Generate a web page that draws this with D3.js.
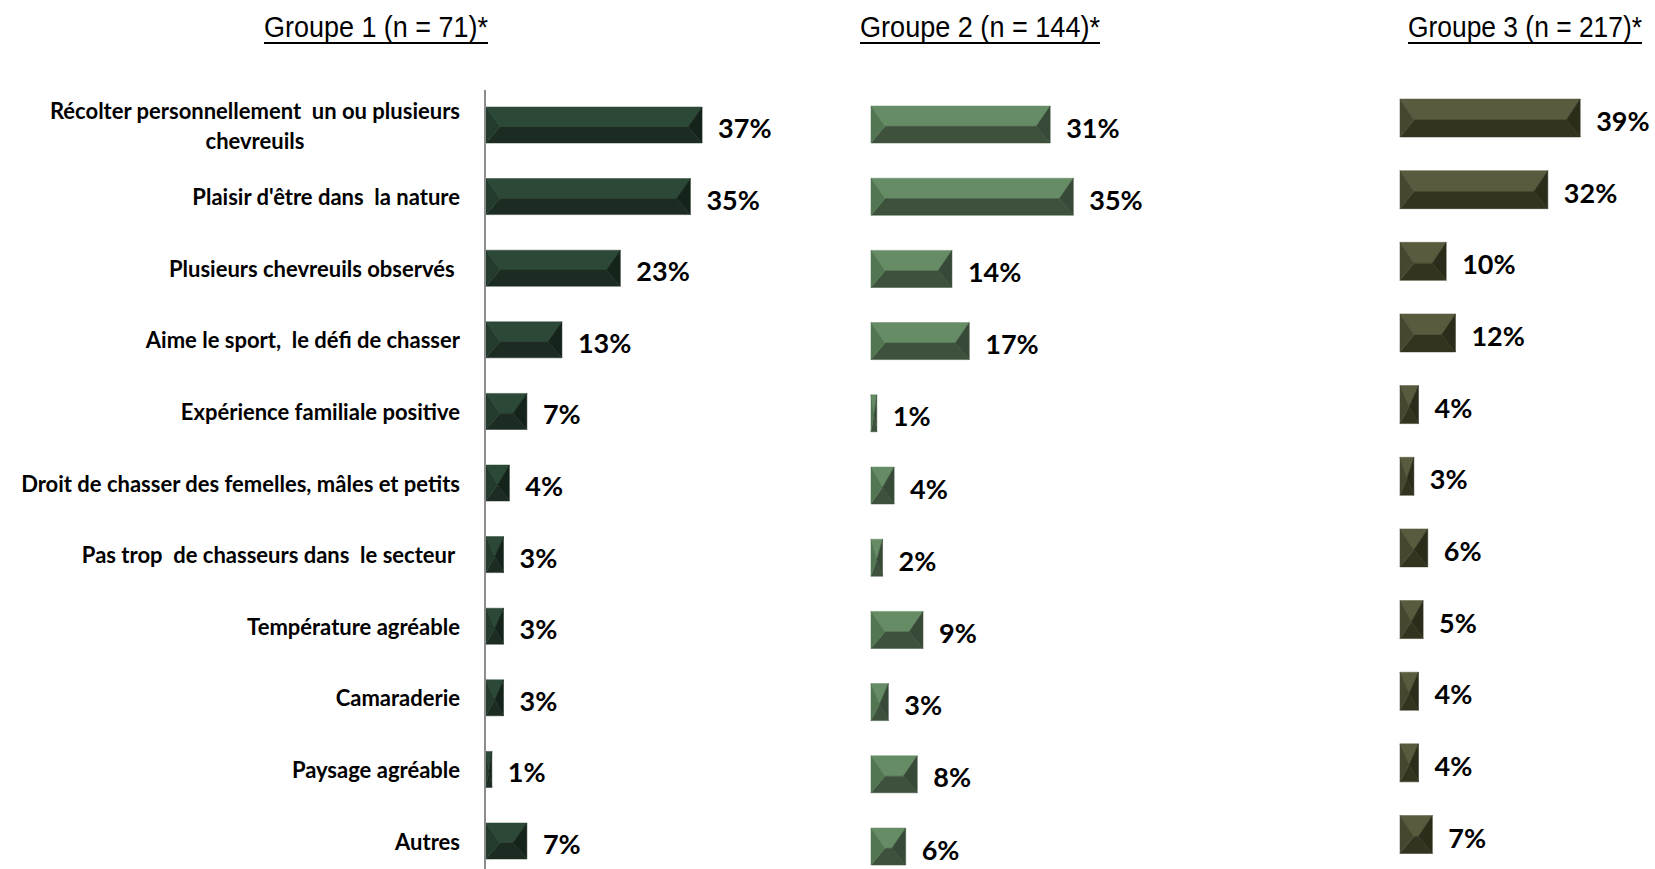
<!DOCTYPE html>
<html>
<head>
<meta charset="utf-8">
<script src="https://cdn.jsdelivr.net/npm/d3@7"></script>
<style>
  body { margin: 0; background: #fff; }
  text { white-space: pre; }
</style>
</head>
<body>
<script>
const width = 1655; //Width of page
const height = 869; //Height of page

//Categories (a "|" splits a label on two lines)
const categories = [
  "Récolter personnellement  un ou plusieurs|chevreuils",
  "Plaisir d'être dans  la nature",
  "Plusieurs chevreuils observés ",
  "Aime le sport,  le défi de chasser",
  "Expérience familiale positive",
  "Droit de chasser des femelles, mâles et petits",
  "Pas trop  de chasseurs dans  le secteur ",
  "Température agréable",
  "Camaraderie",
  "Paysage agréable",
  "Autres"
];

const groupTitles = ["Groupe 1 (n = 71)*", "Groupe 2 (n = 144)*", "Groupe 3 (n = 217)*"];

//Percentages per group, same order as categories
const group1 = [37, 35, 23, 13, 7, 4, 3, 3, 3, 1, 7];
const group2 = [31, 35, 14, 17, 1, 4, 2, 9, 3, 8, 6];
const group3 = [39, 32, 10, 12, 4, 3, 6, 5, 4, 4, 7];

//Layout and colours of each panel
const panels = [
  { values: group1, x0: 486, ppp: 5.84, yTop: 125, yBot: 841, barH: 36, titleX: 376, titleW: 224,
    colors: { top: "#2b4936", bottom: "#1c2c22", left: "#223b2c", right: "#14241a" } },
  { values: group2, x0: 871, ppp: 5.78, yTop: 124.5, yBot: 846.5, barH: 37, titleX: 980, titleW: 240,
    colors: { top: "#668c66", bottom: "#3d513d", left: "#527552", right: "#374a37" } },
  { values: group3, x0: 1400, ppp: 4.62, yTop: 118, yBot: 834.5, barH: 38, titleX: 1525, titleW: 234,
    colors: { top: "#5a5a3e", bottom: "#33331f", left: "#474730", right: "#2c2c1b" } }
];

const svg = d3.select("body")
  .append("svg")
  .attr("width", width)
  .attr("height", height);

//Draws a bevelled bar made of four faces
function bevelBar(g, x, y, w, h, c) {
  const d = Math.min(14, w / 2);
  const ym = y + h * 0.55;
  const faces = [
    { pts: [[x, y], [x + w, y], [x + w - d, ym], [x + d, ym]], fill: c.top },
    { pts: [[x + d, ym], [x + w - d, ym], [x + w, y + h], [x, y + h]], fill: c.bottom },
    { pts: [[x, y], [x + d, ym], [x, y + h]], fill: c.left },
    { pts: [[x + w, y], [x + w - d, ym], [x + w, y + h]], fill: c.right }
  ];
  faces.forEach(function(f) {
    g.append("polygon")
      .attr("points", f.pts.map(p => p.join(",")).join(" "))
      .attr("fill", f.fill)
      .attr("stroke", f.fill)
      .attr("stroke-width", 0.5);
  });
}

panels.forEach(function(p, gi) {
  const xScale = d3.scaleLinear()
    .domain([0, 40])
    .range([p.x0, p.x0 + 40 * p.ppp]);

  const yScale = d3.scalePoint()
    .domain(categories)
    .range([p.yTop, p.yBot]);

  const g = svg.append("g").attr("class", "panel" + (gi + 1));

  //Title, stretched a bit sideways like the original narrow font, underlined
  const title = g.append("text")
    .attr("x", 0)
    .attr("y", 0)
    .attr("text-anchor", "middle")
    .style("font-family", "'Liberation Sans Narrow', 'Arial Narrow', sans-serif")
    .style("font-size", "29px")
    .style("fill", "#000")
    .text(groupTitles[gi]);
  const natural = title.node().getComputedTextLength();
  title.attr("transform", "translate(" + p.titleX + ",37) scale(" + (p.titleW / natural) + ",1)");

  g.append("line")
    .attr("x1", p.titleX - p.titleW / 2)
    .attr("x2", p.titleX + p.titleW / 2)
    .attr("y1", 43)
    .attr("y2", 43)
    .attr("stroke", "#000")
    .attr("stroke-width", 2);

  //Bars
  categories.forEach(function(cat, i) {
    const v = p.values[i];
    const x = xScale(0);
    const w = xScale(v) - xScale(0);
    const yc = yScale(cat);
    bevelBar(g, x, yc - p.barH / 2, w, p.barH, p.colors);

    g.append("text")
      .attr("x", xScale(v) + 16)
      .attr("y", yc + 2.5)
      .attr("dominant-baseline", "central")
      .style("font-family", "Lato, 'Open Sans', sans-serif")
      .style("font-weight", "bold")
      .style("font-size", "27px")
      .style("fill", "#000")
      .text(v + "%");
  });

  //Category labels and axis line only on the first panel
  if (gi === 0) {
    svg.append("line")
      .attr("x1", 485)
      .attr("x2", 485)
      .attr("y1", 90)
      .attr("y2", height)
      .attr("stroke", "#8c8c8c")
      .attr("stroke-width", 2);

    categories.forEach(function(cat) {
      const lines = cat.split("|");
      const yc = yScale(cat);
      const labelStyle = function(t) {
        t.style("font-family", "Lato, 'Open Sans', sans-serif")
          .style("font-weight", "bold")
          .style("font-size", "22px")
          .style("fill", "#000")
          .attr("dominant-baseline", "central");
      };
      if (lines.length === 1) {
        g.append("text")
          .attr("x", 460)
          .attr("y", yc)
          .attr("text-anchor", "end")
          .call(labelStyle)
          .text(cat);
      } else {
        const first = g.append("text")
          .attr("x", 460)
          .attr("y", yc - 15)
          .attr("text-anchor", "end")
          .call(labelStyle)
          .text(lines[0]);
        const lw = first.node().getComputedTextLength();
        g.append("text")
          .attr("x", 460 - lw / 2)
          .attr("y", yc + 15)
          .attr("text-anchor", "middle")
          .call(labelStyle)
          .text(lines[1]);
      }
    });
  }
});
</script>
</body>
</html>
